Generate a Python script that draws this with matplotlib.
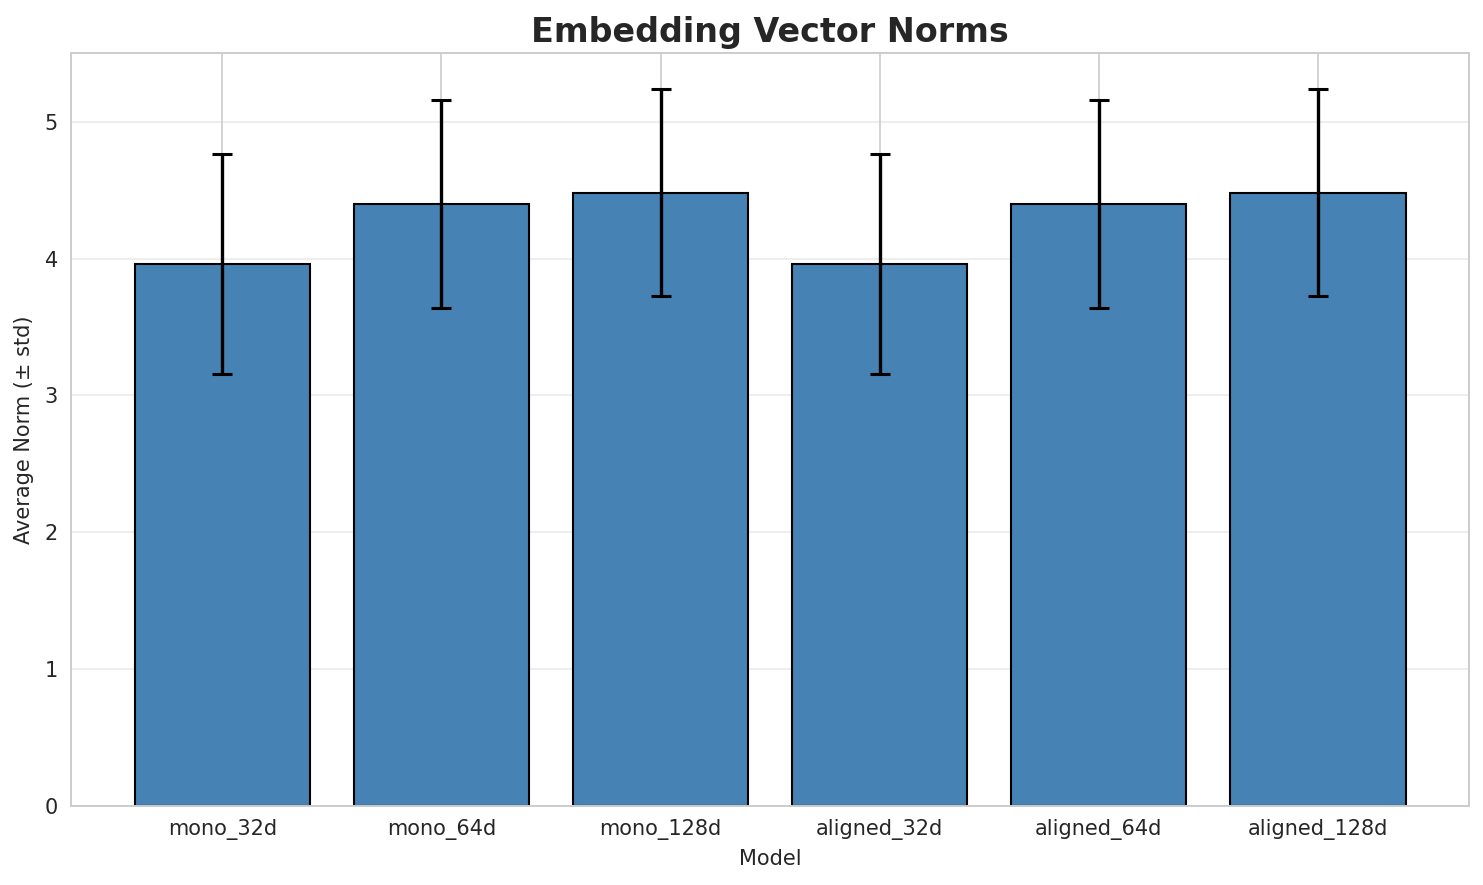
import numpy as np
import matplotlib.pyplot as plt
import seaborn as sns

sns.set_style('whitegrid')

models = ['mono_32d', 'mono_64d', 'mono_128d', 'aligned_32d', 'aligned_64d', 'aligned_128d']
mean_norms = [3.96, 4.40, 4.48, 3.96, 4.40, 4.48]
std_norms = [0.80, 0.76, 0.755, 0.80, 0.76, 0.755]

fig, ax = plt.subplots(figsize=(14.83, 8.85), dpi=100)
x = np.arange(len(models))
ax.bar(x, mean_norms, yerr=std_norms, capsize=7, color='steelblue',
       edgecolor='black', linewidth=1.5,
       error_kw={'elinewidth': 2.4, 'capthick': 2.2, 'ecolor': 'black'})
ax.set_xticks(x)
ax.set_xticklabels(models, fontsize=15)
ax.tick_params(axis='both', labelsize=15, pad=6)
ax.set_xlabel('Model', fontsize=15, labelpad=6)
ax.set_ylabel('Average Norm (± std)', fontsize=15, labelpad=8)
ax.set_title('Embedding Vector Norms', fontsize=24, fontweight='bold', pad=8)
ax.set_ylim(0, 5.5)
ax.grid(axis='x', linewidth=1.2)
ax.grid(axis='y', alpha=0.4, linewidth=1.2)
for s in ax.spines.values():
    s.set_linewidth(1.4)

plt.subplots_adjust(left=0.048, right=0.9906, top=0.94, bottom=0.089)
plt.savefig('out.png')
